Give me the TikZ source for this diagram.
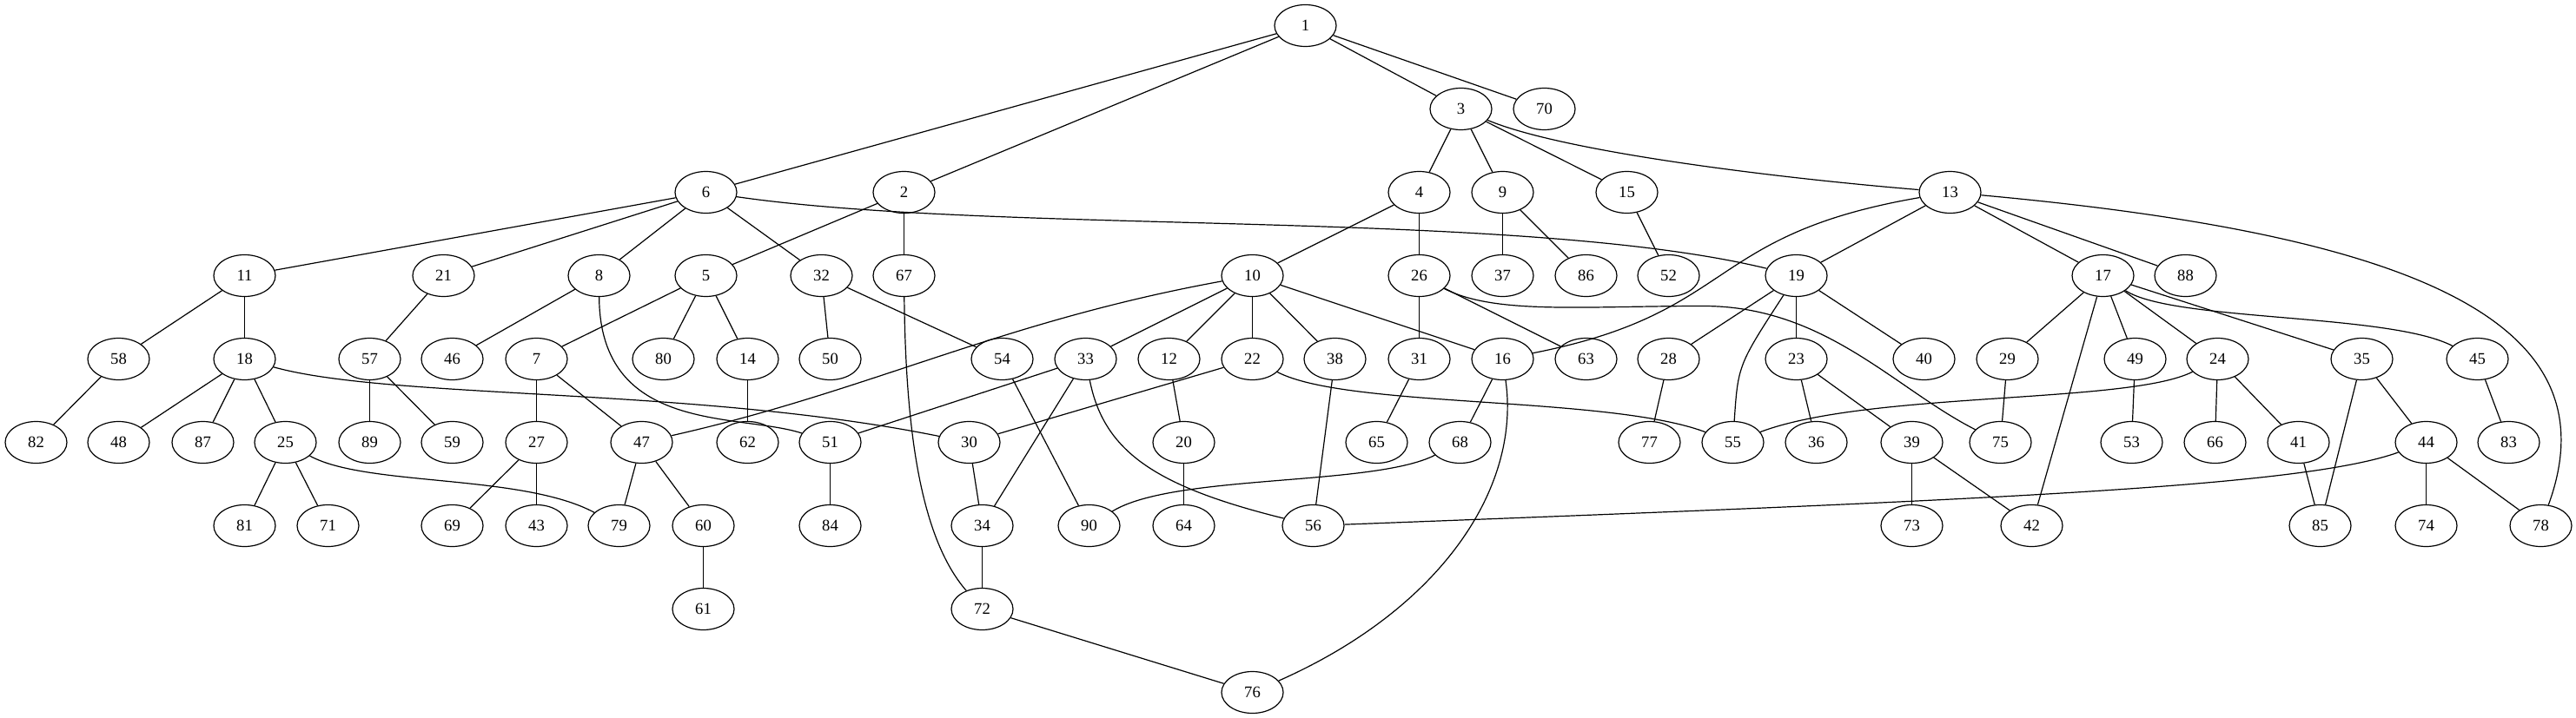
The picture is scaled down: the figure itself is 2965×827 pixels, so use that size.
\documentclass[tikz,border=0pt]{standalone}
\usepackage{fontspec}
\setmainfont{Liberation Serif}
\usepackage{tikz}
\usetikzlibrary{shapes.geometric}

\begin{document}
\begin{tikzpicture}[x=0.75pt, y=-0.75pt,
    vertex/.style={draw, ellipse, line width=0.9pt, inner sep=0pt,
                   minimum width=53.25pt, minimum height=36pt,
                   font=\fontsize{14pt}{16pt}\selectfont},
    edge/.style={line width=0.9pt}]
  \useasboundingbox (-0.5,-0.5) rectangle (2964.5,826.5);

  % Sommets (rangées du haut vers le bas)
  \foreach \n/\x/\y in {1/1502/29,
      3/1681/125, 70/1777/125,
      6/812/221, 2/1040/221, 4/1633/221, 9/1729/221, 15/1872/221, 13/2244/221,
      11/281/317, 21/510/317, 8/689/317, 5/812/317, 32/945/317, 67/1040/317,
      10/1441/317, 26/1633/317, 37/1729/317, 86/1825/317, 52/1920/317,
      19/2067/317, 17/2420/317, 88/2515/317,
      58/136/413, 18/281/413, 57/425/413, 46/520/413, 7/617/413, 80/763/413,
      14/860/413, 50/955/413, 54/1153/413, 33/1249/413, 12/1345/413,
      22/1441/413, 38/1536/413, 31/1633/413, 16/1729/413, 63/1825/413,
      28/1920/413, 23/2067/413, 40/2214/413, 29/2310/413, 49/2457/413,
      24/2552/413, 35/2718/413, 45/2851/413,
      82/41/509, 48/136/509, 87/233/509, 25/328/509, 89/425/509, 59/520/509,
      27/617/509, 47/738/509, 62/860/509, 51/955/509, 30/1115/509,
      20/1362/509, 65/1584/509, 68/1680/509, 77/1898/509, 55/1994/509,
      36/2090/509, 39/2200/509, 75/2302/509, 53/2453/509, 66/2549/509,
      41/2645/509, 44/2792/509, 83/2887/509,
      81/281/605, 71/377/605, 69/520/605, 43/617/605, 79/712/605, 60/809/605,
      84/955/605, 34/1130/605, 90/1253/605, 64/1362/605, 56/1511/605,
      73/2200/605, 42/2338/605, 85/2670/605, 74/2792/605, 78/2924/605,
      61/809/701, 72/1130/701,
      76/1441/797}
    \node[vertex] (n\n) at (\x,\y) {\n};

  % Arêtes droites
  \foreach \a/\b in {1/6, 1/2, 1/3, 1/70, 3/4, 3/9, 3/15,
      6/11, 6/21, 6/8, 6/32, 2/5, 2/67, 4/10, 4/26,
      9/37, 9/86, 15/52, 13/19, 13/17, 13/88,
      11/58, 11/18, 21/57, 8/46, 5/7, 5/80, 5/14, 32/50, 32/54,
      10/33, 10/12, 10/22, 10/38, 10/16, 26/31, 26/63,
      19/28, 19/23, 19/40, 17/29, 17/42, 17/49, 17/24, 17/35,
      58/82, 18/48, 18/87, 18/25, 57/89, 57/59, 7/27, 7/47, 14/62,
      54/90, 33/51, 33/34, 12/20, 22/30, 38/56, 31/65, 16/68, 28/77,
      23/36, 23/39, 29/75, 49/53, 24/66, 24/41, 35/85, 35/44, 45/83,
      25/81, 25/71, 27/69, 27/43, 47/79, 47/60, 51/84, 30/34, 20/64,
      39/73, 39/42, 41/85, 44/74, 44/78, 60/61, 34/72, 72/76}
    \draw[edge] (n\a) -- (n\b);

  % Arêtes courbes
  \draw[edge] (n6) .. controls (1150,270) and (1750,240) .. (n19);
  \draw[edge] (n3) .. controls (1800,175) and (2050,205) .. (n13);
  \draw[edge] (n13) .. controls (1960,270) and (2000,360) .. (n16);
  \draw[edge] (n13) .. controls (2780,270) and (3010,370) .. (n78);
  \draw[edge] (n8) .. controls (690,500) and (850,475) .. (n51);
  \draw[edge] (n18) .. controls (450,460) and (800,445) .. (n30);
  \draw[edge] (n10) .. controls (1150,370) and (1000,450) .. (n47);
  \draw[edge] (n26) .. controls (1720,362) and (1820,352) .. (1960,352)
                    .. controls (2100,352) and (2180,447) .. (n75);
  \draw[edge] (n22) .. controls (1550,470) and (1850,455) .. (n55);
  \draw[edge] (n24) .. controls (2450,465) and (2150,450) .. (n55);
  \draw[edge] (n25) .. controls (420,560) and (600,545) .. (n79);
  \draw[edge] (n68) .. controls (1580,560) and (1350,545) .. (n90);
  \draw[edge] (n44) .. controls (2650,560) and (2300,575) .. (n56);
  \draw[edge] (n16) .. controls (1750,560) and (1660,700) .. (n76);
  \draw[edge] (n33) .. controls (1270,520) and (1330,560) .. (n56);
  \draw[edge] (n67) .. controls (1042,500) and (1060,620) .. (n72);
  \draw[edge] (n17) .. controls (2500,370) and (2750,360) .. (n45);
  \draw[edge] (n19) .. controls (2000,420) .. (n55);
\end{tikzpicture}
\end{document}
